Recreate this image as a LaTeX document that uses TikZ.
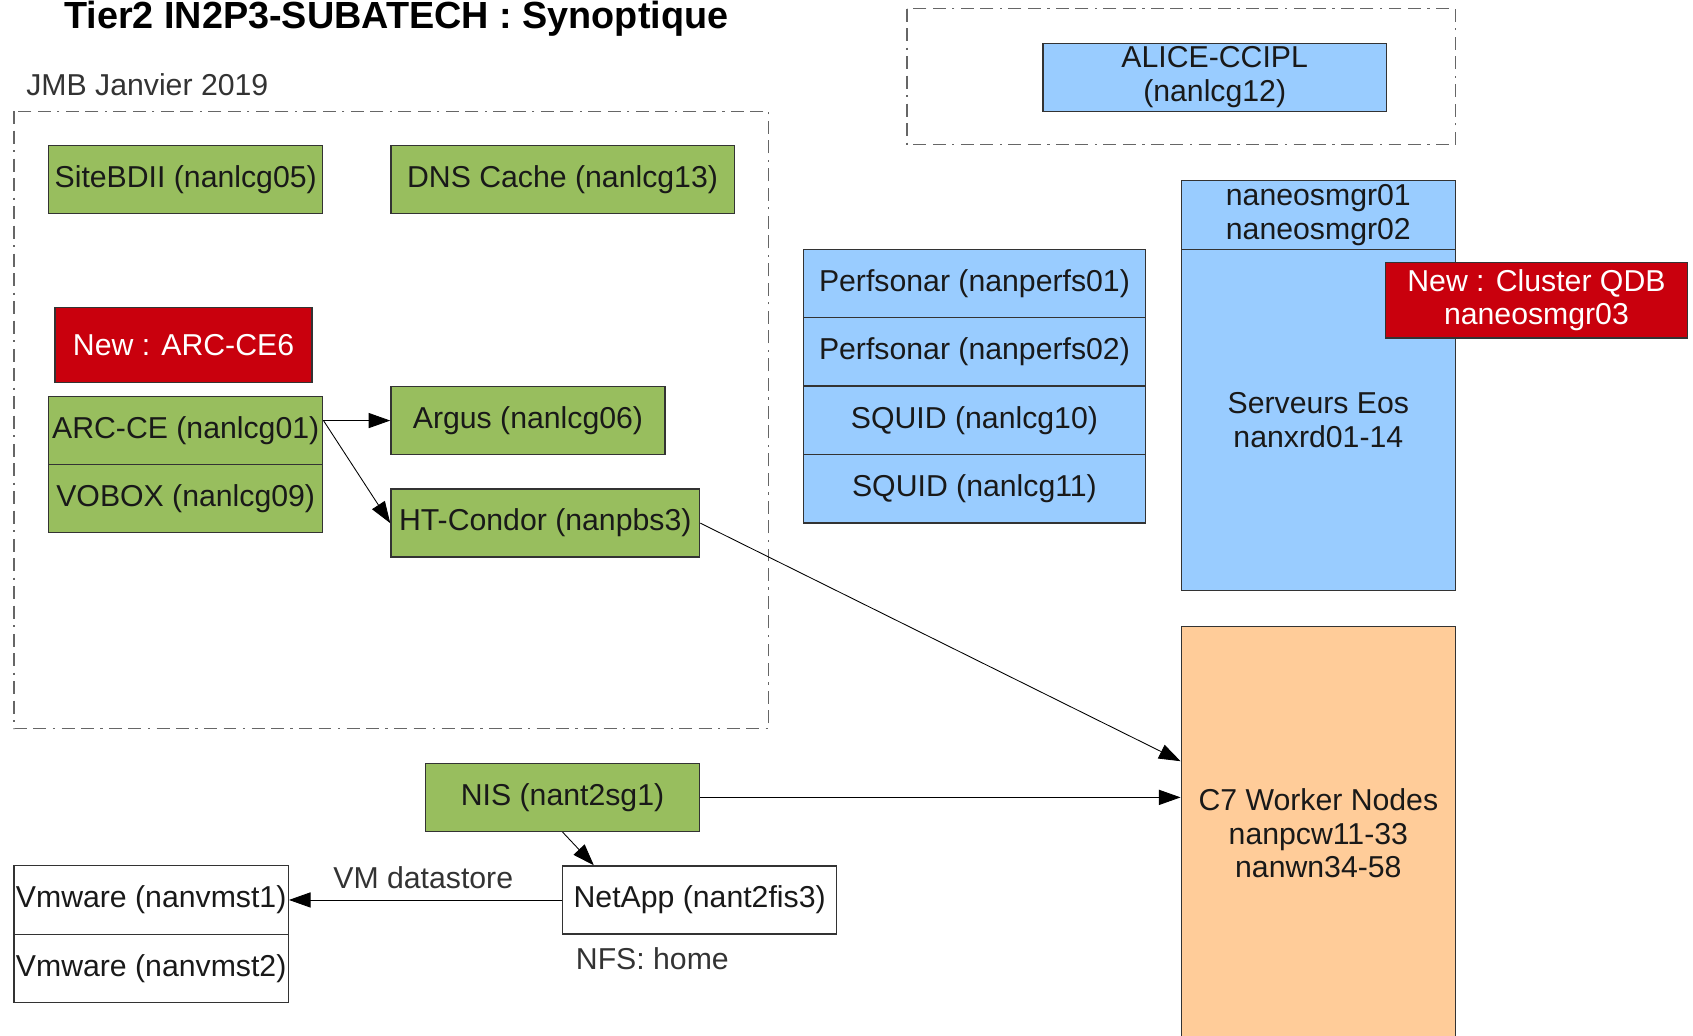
\documentclass[tikz,border=0pt]{standalone}
\usepackage{fontspec}
\setmainfont{Liberation Sans}
\usetikzlibrary{arrows.meta}

\definecolor{srvgreen}{HTML}{98BE5E}
\definecolor{srvblue}{HTML}{99CCFF}
\definecolor{srvred}{HTML}{C9000D}
\definecolor{srvorange}{HTML}{FFCC99}

\begin{document}
\begin{tikzpicture}[x=0.5pt,y=-0.5pt,
    box/.style={rectangle, draw=black!80, line width=0.6pt, inner sep=0pt, align=center,
      text=black!90, font=\fontsize{14}{15.5}\selectfont},
    greenbox/.style={box, fill=srvgreen},
    bluebox/.style={box, fill=srvblue},
    redbox/.style={box, fill=srvred, text=white},
    link/.style={-{Triangle[length=10pt,width=7pt]}, line width=0.4pt, black},
    frame/.style={draw=black!60, line width=0.6pt,
      dash pattern=on 6pt off 3pt on 6pt off 3pt on 1pt off 3pt},
    note/.style={text=black!80, inner sep=0pt, font=\fontsize{14}{15}\selectfont}]
        \clip (0,0) rectangle (1568,959);
        %title
        \node[inner sep=0pt, anchor=base, font=\fontsize{17.5}{18}\bfseries\selectfont] (title) at (367,26) {Tier2 IN2P3-SUBATECH : Synoptique};
        \node[note, anchor=west] (date) at (24,78) {JMB Janvier 2019};
        % dashed frames
        \draw[frame] (13,103) rectangle (712,675);
        \draw[frame] (840,8) rectangle (1348,134);
        % grid services
        \node[greenbox, minimum width=127pt, minimum height=31.5pt] (bdii) at (172,166.5) {SiteBDII (nanlcg05)};
        \node[greenbox, minimum width=159pt, minimum height=31.5pt] (dns) at (521,166.5) {DNS Cache (nanlcg13)};
        \node[redbox, minimum width=119pt, minimum height=34.5pt] (arcnew) at (170,319.5) {New : ARC-CE6};
        \node[greenbox, minimum width=127pt, minimum height=31.5pt] (arc) at (172,398.5) {ARC-CE (nanlcg01)};
        \node[greenbox, minimum width=127pt, minimum height=31.5pt] (vobox) at (172,461.5) {VOBOX (nanlcg09)};
        \node[greenbox, minimum width=127pt, minimum height=31.5pt] (argus) at (489,389.5) {Argus (nanlcg06)};
        \node[greenbox, minimum width=143pt, minimum height=31.5pt] (condor) at (505,484.5) {HT-Condor (nanpbs3)};
        % alice
        \node[bluebox, minimum width=159pt, minimum height=31.5pt] (alice) at (1125,71.5) {ALICE-CCIPL\\(nanlcg12)};
        % perfsonar and squid
        \node[bluebox, minimum width=158.5pt, minimum height=31.7pt] (perf1) at (902.5,262.6) {Perfsonar (nanperfs01)};
        \node[bluebox, minimum width=158.5pt, minimum height=31.7pt] (perf2) at (902.5,326) {Perfsonar (nanperfs02)};
        \node[bluebox, minimum width=158.5pt, minimum height=31.7pt] (squid1) at (902.5,389.3) {SQUID (nanlcg10)};
        \node[bluebox, minimum width=158.5pt, minimum height=31.7pt] (squid2) at (902.5,452.6) {SQUID (nanlcg11)};
        % eos
        \node[bluebox, minimum width=127pt, minimum height=32pt] (eosmgr) at (1221,199) {naneosmgr01\\naneosmgr02};
        \node[bluebox, minimum width=127pt, minimum height=158pt] (eos) at (1221,389) {Serveurs Eos\\nanxrd01-14};
        \node[redbox, minimum width=140pt, minimum height=35pt] (qdb) at (1423,278) {New : Cluster QDB\\naneosmgr03};
        % worker nodes
        \node[box, fill=srvorange, minimum width=127pt, minimum height=192pt] (wn) at (1221,772) {C7 Worker Nodes\\nanpcw11-33\\nanwn34-58};
        % storage
        \node[greenbox, minimum width=127pt, minimum height=31.5pt] (nis) at (521,738.5) {NIS (nant2sg1)};
        \node[box, fill=white, minimum width=127pt, minimum height=31.5pt] (netapp) at (648,833.5) {NetApp (nant2fis3)};
        \node[box, fill=white, minimum width=127pt, minimum height=31.7pt] (vm1) at (140,833.5) {Vmware (nanvmst1)};
        \node[box, fill=white, minimum width=127pt, minimum height=31.7pt] (vm2) at (140,897) {Vmware (nanvmst2)};
        \node[note] (vmlabel) at (392,813) {VM datastore};
        \node[note, anchor=west] (nfslabel) at (533,888) {NFS: home};
        % arrows
        \draw[link] (arc.east |- argus.west) -- (argus.west);
        \draw[link] (arc.east |- argus.west) -- (condor.west);
        \draw[link] (condor.east) -- ([yshift=33.5pt]wn.west);
        \draw[link] (nis.east) -- (wn.west |- nis.east);
        \draw[link] (nis.south) -- ([xshift=-49pt]netapp.north);
        \draw[link] (netapp.west) -- (vm1.east);
\end{tikzpicture}
\end{document}
